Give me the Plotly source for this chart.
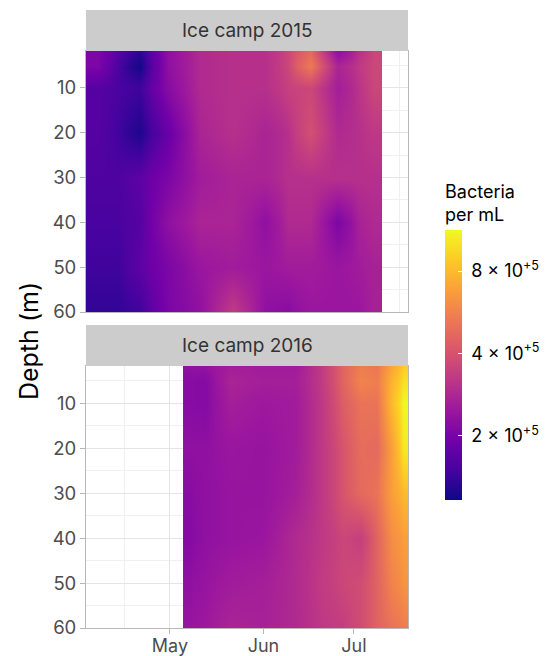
import numpy as np
import plotly.graph_objects as go

depths = [2, 5, 10, 20, 30, 40, 50, 60]
edges_2015 = ["2015-04-03", "2015-04-11", "2015-04-17", "2015-04-25", "2015-05-06", "2015-05-16", "2015-05-28",
              "2015-06-06", "2015-06-12", "2015-06-21", "2015-06-30", "2015-07-05", "2015-07-10 08:00"]
edges_2016 = ["2016-05-05 08:00", "2016-05-09", "2016-05-16", "2016-05-26", "2016-06-06", "2016-06-16", "2016-06-24",
              "2016-06-30", "2016-07-06", "2016-07-11", "2016-07-16", "2016-07-19"]

# Bacteria per mL, in units of 1e5
bact_2015 = [
    [2.05, 1.64, 1.33, 2.30, 2.88, 3.02, 3.02, 3.62, 4.74, 2.30, 3.02, 3.62],
    [2.05, 1.53, 1.20, 2.30, 2.88, 3.02, 3.02, 3.62, 5.30, 2.75, 3.23, 3.62],
    [1.64, 1.53, 1.46, 2.20, 2.88, 3.02, 3.02, 3.45, 3.62, 2.63, 3.10, 3.62],
    [1.64, 1.46, 1.25, 1.83, 2.75, 3.02, 2.75, 3.02, 3.88, 2.88, 3.02, 3.23],
    [1.57, 1.57, 1.72, 2.05, 2.57, 2.75, 2.75, 3.02, 3.02, 3.02, 3.02, 3.02],
    [1.53, 1.53, 1.64, 2.30, 2.75, 2.75, 2.30, 2.88, 2.88, 2.05, 2.69, 2.88],
    [1.46, 1.46, 1.72, 2.05, 2.45, 2.57, 2.45, 2.57, 2.57, 2.45, 2.57, 2.69],
    [1.37, 1.37, 1.46, 2.05, 2.30, 3.30, 2.30, 2.20, 2.45, 2.45, 2.45, 2.69],
]
bact_2016 = [
    [2.30, 2.35, 2.63, 2.57, 2.57, 3.30, 4.53, 5.42, 5.20, 7.13, 8.95],
    [2.20, 2.15, 2.75, 2.63, 2.63, 3.30, 4.53, 5.68, 5.42, 7.65, 10.0],
    [2.20, 2.15, 2.63, 2.50, 2.57, 3.23, 4.33, 5.07, 5.07, 8.00, 11.27],
    [2.30, 2.30, 2.45, 2.40, 2.57, 3.23, 4.05, 4.85, 4.74, 6.80, 10.5],
    [2.20, 2.30, 2.40, 2.40, 2.63, 3.23, 4.05, 4.74, 5.07, 6.80, 8.00],
    [2.15, 2.30, 2.40, 2.45, 2.88, 3.23, 3.62, 3.40, 4.53, 6.10, 6.80],
    [2.30, 2.40, 2.57, 2.63, 2.88, 3.30, 3.62, 3.80, 4.53, 5.68, 6.37],
    [2.40, 2.50, 2.75, 2.69, 2.88, 3.23, 3.38, 3.80, 4.53, 5.07, 5.42],
]

panel_titles = ["Ice camp 2015", "Ice camp 2016"]
depth_ticks = [10, 20, 30, 40, 50, 60]
depth_minor = [5, 15, 25, 35, 45, 55]
month_labels = ["May", "Jun", "Jul"]
legend_values = [2e5, 4e5, 8e5]
legend_labels = ["\u00a02 × 10<sup>+5</sup>", "\u00a04 × 10<sup>+5</sup>", "\u00a08 × 10<sup>+5</sup>"]

W, H = 548, 656
FONT = "Inter"
L, R = 86, 408
panels = [(51, 312), (366, 628)]
strips = [(10, 51), (325, 366)]

fig = go.Figure()
for i, (edges, vals, year) in enumerate([(edges_2015, bact_2015, 2015), (edges_2016, bact_2016, 2016)]):
    s = "" if i == 0 else "2"
    fig.add_trace(go.Heatmap(x=edges, y=depths, z=np.log10(np.array(vals) * 1e5).tolist(),
                             zsmooth="best", coloraxis="coloraxis", xaxis=f"x{s}", yaxis=f"y{s}",
                             hoverinfo="skip"))
    top, bot = panels[i]
    common_grid = dict(showgrid=True, gridcolor="#e4e4e4", gridwidth=1, showline=True, linecolor="#b8b8b8",
                       linewidth=1, mirror=True, zeroline=False, layer="below traces")
    fig.update_layout({
        f"xaxis{s}": dict(domain=[L / W, R / W], type="date",
                          range=[f"{year}-04-03 04:00", f"{year}-07-18 22:00"],
                          tickmode="array",
                          tickvals=[f"{year}-05-01", f"{year}-06-01", f"{year}-07-01"],
                          ticktext=month_labels,
                          showticklabels=(i == 1),
                          ticks="outside" if i == 1 else "", ticklen=5, tickcolor="#b8b8b8",
                          ticklabelstandoff=-4,
                          tickfont=dict(family=FONT, size=18, color="#4d4d4d"),
                          anchor=f"y{s}",
                          minor=dict(tickmode="array",
                                     tickvals=[f"{year}-04-16", f"{year}-05-16", f"{year}-06-16", f"{year}-07-16"],
                                     showgrid=True, gridcolor="#f0f0f0", gridwidth=1, ticks=""),
                          **common_grid),
        f"yaxis{s}": dict(domain=[1 - bot / H, 1 - top / H], range=[60, 1.75],
                          tickmode="array", tickvals=depth_ticks, ticks="outside", ticklen=5,
                          tickcolor="#b8b8b8",
                          tickfont=dict(family=FONT, size=18.5, color="#4d4d4d"),
                          anchor=f"x{s}",
                          minor=dict(tickmode="array", tickvals=depth_minor, showgrid=True,
                                     gridcolor="#f0f0f0", gridwidth=1, ticks=""),
                          **common_grid),
    })

shapes, annotations = [], []
for (t, b), title in zip(strips, panel_titles):
    shapes.append(dict(type="rect", xref="paper", yref="paper", x0=L / W, x1=R / W, y0=1 - b / H, y1=1 - t / H,
                       fillcolor="#cccccc", line=dict(width=0)))
    annotations.append(dict(text=title, xref="paper", yref="paper", x=(L + R) / 2 / W, y=1 - (t + b) / 2 / H,
                            showarrow=False, xanchor="center", yanchor="middle",
                            font=dict(family=FONT, size=19, color="#333333")))
annotations.append(dict(text="Depth (m)", xref="paper", yref="paper", x=29 / W, y=1 - 341 / H, textangle=-90,
                        showarrow=False, xanchor="center", yanchor="middle",
                        font=dict(family=FONT, size=25, color="#000000")))

fig.update_layout(
    width=W, height=H, autosize=False, margin=dict(l=0, r=0, t=0, b=0, autoexpand=False),
    paper_bgcolor="white", plot_bgcolor="white", shapes=shapes, annotations=annotations,
    coloraxis=dict(
        colorscale="Plasma", cmin=np.log10(1.165e5), cmax=np.log10(1.127e6),
        colorbar=dict(
            x=445 / W, xanchor="left", xpad=0, ypad=0, y=1 - 500 / H, yanchor="bottom",
            lenmode="pixels", len=319, thicknessmode="pixels", thickness=17,
            outlinewidth=0, borderwidth=0,
            tickmode="array", tickvals=np.log10(legend_values).tolist(), ticktext=legend_labels,
            ticks="inside", ticklen=4, tickcolor="white", tickwidth=1,
            tickfont=dict(family=FONT, size=18, color="#000000"),
            title=dict(text="Bacteria<br>per mL", side="top", font=dict(family=FONT, size=18, color="#000000")),
        ),
    ),
)
fig.write_html("out.html", config=dict(displayModeBar=False), post_script="document.body.style.margin='0';")
